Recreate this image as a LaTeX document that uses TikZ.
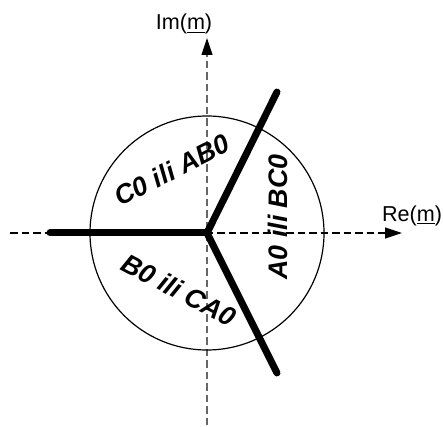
\documentclass[tikz,border=0pt]{standalone}
\usepackage{fontspec}
\setmainfont{Liberation Sans}
\usetikzlibrary{arrows.meta}

\begin{document}
\begin{tikzpicture}[x=0.5pt,y=-0.5pt,
    axis/.style={line width=0.6pt,dash pattern=on 3.75pt off 2pt,
      -{Triangle[length=8.5pt,width=5.5pt,color=black]}},
    phase/.style={line width=3.5pt,line cap=round},
    lbl/.style={font=\fontsize{10.8}{12}\selectfont,anchor=base,inner sep=0pt},
    sector/.style={font=\fontsize{13.4}{15}\selectfont\bfseries\itshape,inner sep=0pt}]
  \useasboundingbox (0,0) rectangle (444,427);
  \coordinate (o) at (207,233);
  % axes
  \coordinate (xs) at (10,233);  \coordinate (xe) at (402,233);
  \coordinate (ys) at (207,425); \coordinate (ye) at (207,38);
  \draw[axis] (xs) -- (xe);
  \draw[axis,black!60] (ys) -- (ye);
  \node[lbl] (re) at (412,221) {Re(\underline{m})};
  \node[lbl] (im) at (184,30) {Im(\underline{m})};
  % circle and phases
  \draw[line width=0.6pt] (o) circle[radius=58.5pt];
  \coordinate (pa) at (277,92);
  \coordinate (pb) at (277,373);
  \coordinate (pc) at (50,233);
  \foreach \p in {pa,pb,pc}
    \draw[phase] (o) -- (\p);
  % sectors
  \node[sector,rotate=27] (cab) at (172,170) {C0 ili AB0};
  \node[sector,rotate=90] (abc) at (278,217) {A0 ili BC0};
  \node[sector,rotate=-28] (bca) at (179,290) {B0 ili CA0};
\end{tikzpicture}
\end{document}
